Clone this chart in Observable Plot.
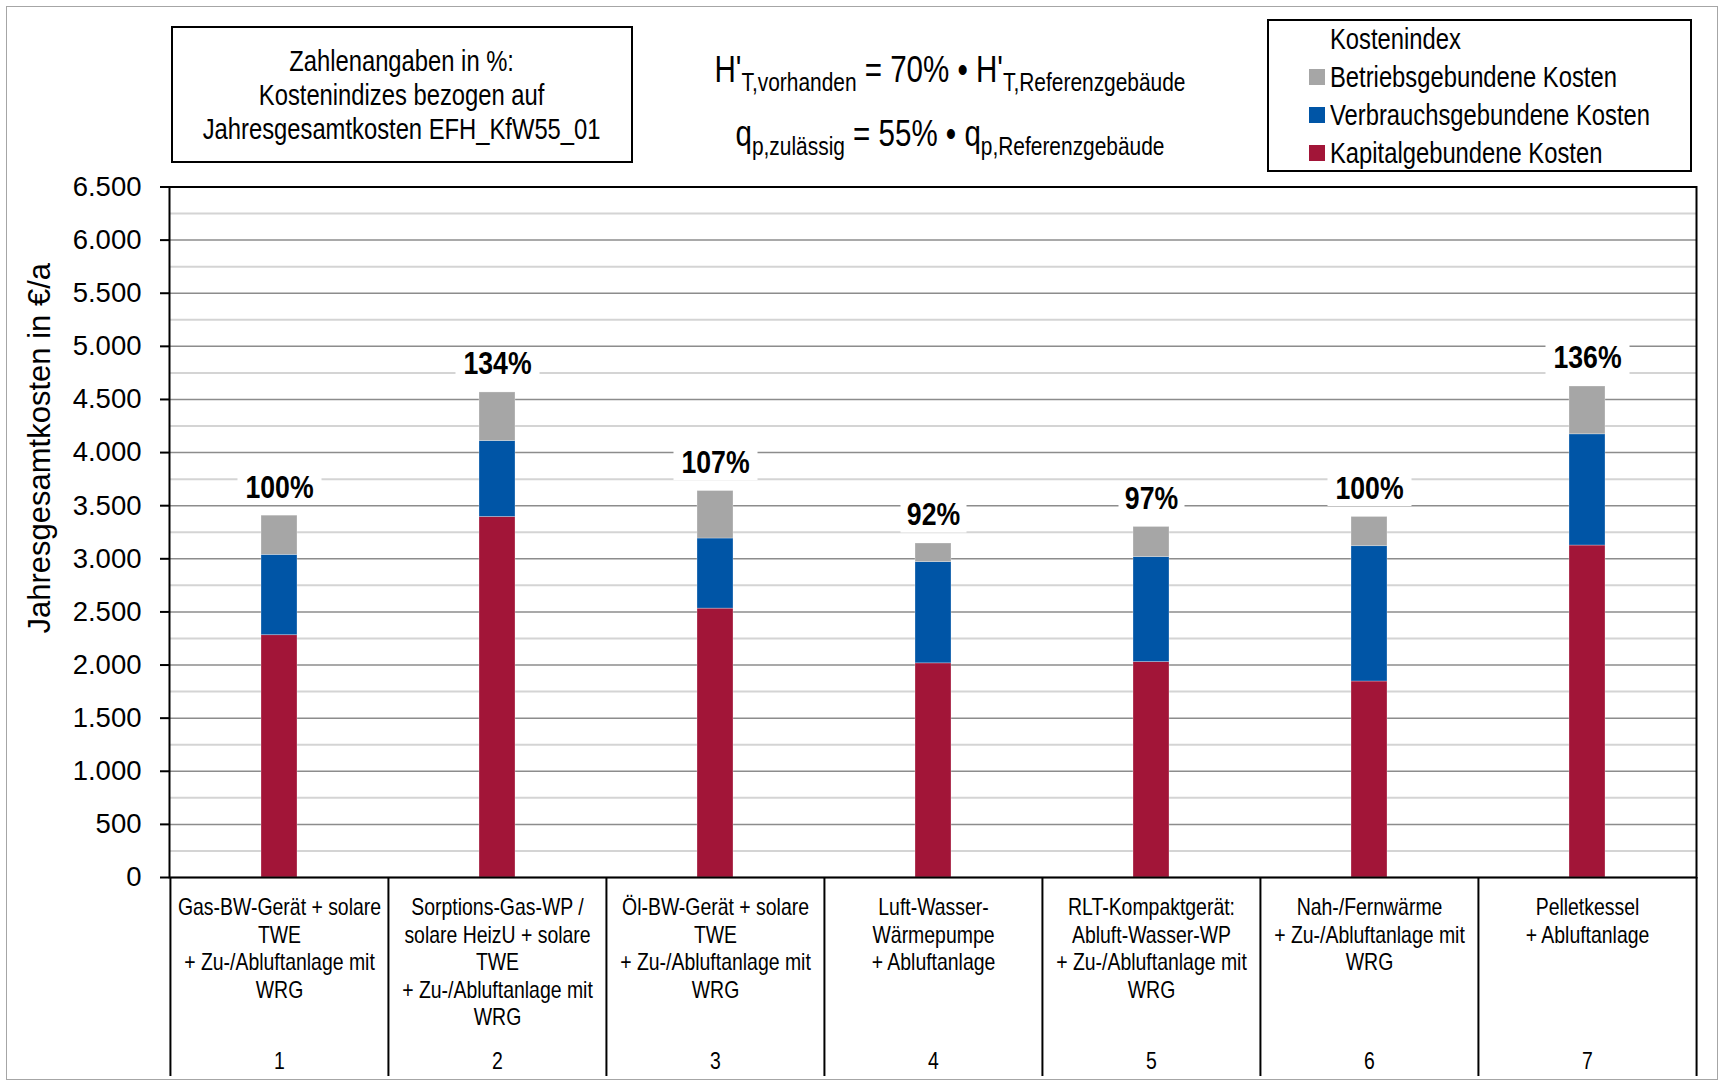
<!DOCTYPE html>
<html>
<head>
<meta charset="utf-8">
<script src="https://cdn.jsdelivr.net/npm/d3@7"></script>
<script src="https://cdn.jsdelivr.net/npm/@observablehq/plot@0.6"></script>
<style>
  html, body { margin: 0; padding: 0; background: #fff; }
  #chart {
    position: relative; width: 1730px; height: 1084px; overflow: hidden;
    font-family: "Liberation Sans", Arial, sans-serif;
    color: #000;
  }
  #chart svg { position: absolute; left: 0; top: 0; }
  /* condensed lettering (narrow grotesque look) */
  .narrow { display: inline-block; transform: scaleX(0.82); }
  .outer { position: absolute; left: 6px; top: 6px; width: 1712px; height: 1074px; border: 1.5px solid #a6a6a6; box-sizing: border-box; }
  .note {
    position: absolute; left: 171px; top: 26px; width: 462px; height: 137px;
    border: 2px solid #000; box-sizing: border-box;
    display: flex; align-items: center; justify-content: center; text-align: center;
    font-size: 29px; line-height: 34px;
  }
  .note .narrow { transform-origin: center; white-space: nowrap; }
  .formula { position: absolute; left: 650px; width: 600px; text-align: center; font-size: 36px; line-height: 36px; white-space: nowrap; transform: scaleX(0.82); transform-origin: center; }
  .formula .sub { font-size: 25.5px; position: relative; top: 9px; }
  .legend { position: absolute; left: 1267px; top: 19px; width: 425px; height: 153px; border: 2px solid #000; box-sizing: border-box; }
  .legend .row { position: absolute; left: 0; height: 34px; line-height: 34px; font-size: 29px; white-space: nowrap; }
  .legend .row span.sw { position: absolute; left: 40px; top: 9px; width: 16px; height: 16px; }
  .legend .row span.tx { position: absolute; left: 61px; top: 0; transform: scaleX(0.82); transform-origin: left center; }
</style>
</head>
<body>
<div id="chart">
  <div class="outer"></div>
</div>
<script>
// Heating systems (x categories) and their multi-line descriptions
const categories = ["1", "2", "3", "4", "5", "6", "7"];
const systemLabels = [
  "Gas-BW-Gerät + solare\nTWE\n+ Zu-/Abluftanlage mit\nWRG",
  "Sorptions-Gas-WP /\nsolare HeizU + solare\nTWE\n+ Zu-/Abluftanlage mit\nWRG",
  "Öl-BW-Gerät + solare\nTWE\n+ Zu-/Abluftanlage mit\nWRG",
  "Luft-Wasser-\nWärmepumpe\n+ Abluftanlage",
  "RLT-Kompaktgerät:\nAbluft-Wasser-WP\n+ Zu-/Abluftanlage mit\nWRG",
  "Nah-/Fernwärme\n+ Zu-/Abluftanlage mit\nWRG",
  "Pelletkessel\n+ Abluftanlage"
];

// Annual cost components in €/a
const kapitalgebunden = [2281, 3394, 2531, 2016, 2028, 1845, 3125];
const verbrauchsgebunden = [756, 715, 660, 953, 988, 1274, 1047];
const betriebsgebunden = [369, 457, 447, 175, 284, 275, 450];

// Series (stack order bottom to top) and colours
const seriesNames = ["Kapitalgebundene Kosten", "Verbrauchsgebundene Kosten", "Betriebsgebundene Kosten"];
const seriesColors = ["#a21538", "#0055a6", "#a6a6a6"];

// Axis ticks
const yTicks = [0, 500, 1000, 1500, 2000, 2500, 3000, 3500, 4000, 4500, 5000, 5500, 6000, 6500];
const yMinorTicks = [250, 750, 1250, 1750, 2250, 2750, 3250, 3750, 4250, 4750, 5250, 5750, 6250];

// ---- tables built from the arrays above ----
const seriesValues = [kapitalgebunden, verbrauchsgebunden, betriebsgebunden];
const rows = [];
categories.forEach((c, i) => seriesNames.forEach((s, j) => rows.push({cat: c, series: s, value: seriesValues[j][i]})));
const totals = categories.map((c, i) => ({cat: c, total: kapitalgebunden[i] + verbrauchsgebunden[i] + betriebsgebunden[i]}));
// cost index relative to system 1
totals.forEach(d => d.label = Math.round(d.total / totals[0].total * 100) + "%");
const labelOf = Object.fromEntries(categories.map((c, i) => [c, systemLabels[i]]));

const regular = `"Liberation Sans", Arial, sans-serif`;

const W = 1730, H = 1084, mL = 169, mR = 34, mT = 186.5, mB = 207;
const step = (W - mL - mR) / categories.length;
const plotH = H - mT - mB;
const tableDepth = 199;

const deFormat = d3.formatLocale({decimal: ",", thousands: ".", grouping: [3], currency: ["", "€"]}).format(",");

// white boxes behind the index labels
const boxSymbol = (w, h) => ({draw(ctx) { ctx.rect(-w / 2, -h / 2, w, h); }});

const chart = Plot.plot({
  width: W, height: H,
  marginLeft: mL, marginRight: mR, marginTop: mT, marginBottom: mB,
  style: {fontFamily: regular, background: "transparent", overflow: "visible", color: "#000"},
  x: {domain: categories, paddingInner: 0.835, paddingOuter: 0.4175, axis: null},
  y: {domain: [0, 6500], axis: null},
  color: {domain: seriesNames, range: seriesColors},
  marks: [
    Plot.gridY(yMinorTicks, {stroke: "#d4d4d4", strokeOpacity: 1, strokeWidth: 2}),
    Plot.gridY(yTicks, {stroke: "#8c8c8c", strokeOpacity: 1, strokeWidth: 1.5}),
    Plot.barY(rows, {x: "cat", y: "value", fill: "series", order: seriesNames, stroke: "#ffffff", strokeOpacity: 0.35, strokeWidth: 0.8}),
    Plot.dot(totals.filter(d => d.label.length > 3), {x: "cat", y: "total", dy: -28, symbol: boxSymbol(84, 34), fill: "white", stroke: null}),
    Plot.dot(totals.filter(d => d.label.length <= 3), {x: "cat", y: "total", dy: -28, symbol: boxSymbol(66, 34), fill: "white", stroke: null}),
    Plot.text(totals, {x: "cat", y: "total", text: "label", dy: -28, fontSize: 31, fontWeight: "bold", fill: "#000"}),
    Plot.frame({stroke: "#000", strokeWidth: 2}),
    // table cell borders below the x axis
    Plot.ruleX(categories, {x: d => d, dx: -step / 2, insetTop: plotH, insetBottom: -tableDepth, stroke: "#000", strokeWidth: 2}),
    Plot.ruleX(categories.slice(-1), {x: d => d, dx: step / 2, insetTop: plotH, insetBottom: -tableDepth, stroke: "#000", strokeWidth: 2}),
    Plot.axisY(yTicks, {tickSize: 9, tickPadding: 19, fontSize: 27.5, tickFormat: deFormat, strokeWidth: 2, label: null}),
    Plot.text(["Jahresgesamtkosten in €/a"], {frameAnchor: "left", rotate: -90, dx: -129, dy: -84, fontSize: 31, textAnchor: "middle", lineAnchor: "middle"}),
    Plot.axisX({tickSize: 0, tickPadding: 18, fontSize: 23, lineHeight: 1.2, tickFormat: d => labelOf[d], label: null}),
    Plot.axisX({tickSize: 0, tickPadding: 175, fontSize: 23, tickFormat: d => d, label: null})
  ]
});

const root = document.getElementById("chart");
root.appendChild(chart);

// condense a text horizontally about its anchor point
function condense(el, k) {
  const t = el.getAttribute("transform");
  if (t) {
    el.setAttribute("transform", `${t} scale(${k},1)`);
  } else {
    const x = +(el.getAttribute("x") || 0);
    el.setAttribute("transform", `translate(${x},0) scale(${k},1) translate(${-x},0)`);
  }
}
d3.select(chart).selectAll('g[aria-label="x-axis tick label"] text').each(function() { condense(this, 0.845); });
d3.select(chart).selectAll("text").filter(function() { return /%$/.test(this.textContent); }).each(function() { condense(this, 0.86); });

// explanatory note
const note = document.createElement("div");
note.className = "note";
note.innerHTML = "<span class='narrow'>Zahlenangaben in %:<br>Kostenindizes bezogen auf<br>Jahresgesamtkosten EFH_KfW55_01</span>";
root.appendChild(note);

// boundary conditions
const f1 = document.createElement("div");
f1.className = "formula"; f1.style.top = "52px";
f1.innerHTML = "H'<span class='sub'>T,vorhanden</span> = 70% • H'<span class='sub'>T,Referenzgebäude</span>";
root.appendChild(f1);
const f2 = document.createElement("div");
f2.className = "formula"; f2.style.top = "116px";
f2.innerHTML = "q<span class='sub'>p,zulässig</span> = 55% • q<span class='sub'>p,Referenzgebäude</span>";
root.appendChild(f2);

// legend, top item is the top of the stack
const legend = document.createElement("div");
legend.className = "legend";
const title = document.createElement("div");
title.className = "row"; title.style.top = "1px";
title.innerHTML = "<span class='tx'>Kostenindex</span>";
legend.appendChild(title);
[...seriesNames].reverse().forEach((name, k) => {
  const row = document.createElement("div");
  row.className = "row";
  row.style.top = (39 + k * 38) + "px";
  const col = seriesColors[seriesNames.indexOf(name)];
  row.innerHTML = `<span class="sw" style="background:${col}"></span><span class="tx">${name}</span>`;
  legend.appendChild(row);
});
root.appendChild(legend);
</script>
</body>
</html>
